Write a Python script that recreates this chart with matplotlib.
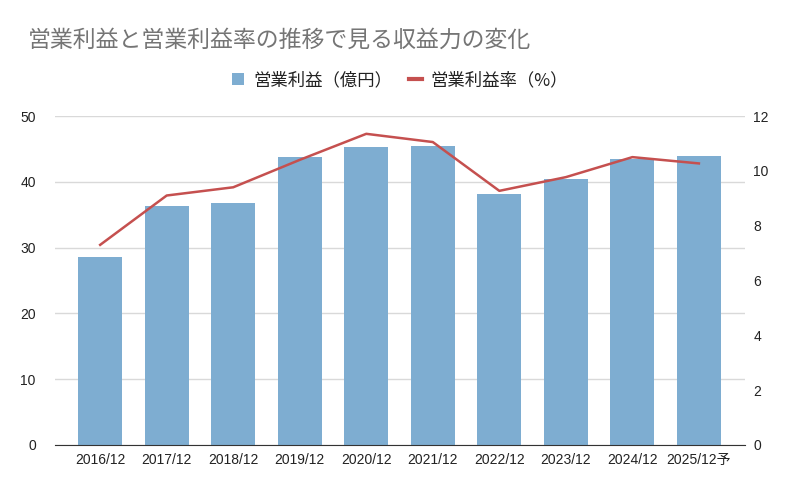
import matplotlib
matplotlib.use("Agg")
import matplotlib.pyplot as plt
from matplotlib.lines import Line2D
from matplotlib.patches import Patch

categories = ["2016/12", "2017/12", "2018/12", "2019/12", "2020/12",
              "2021/12", "2022/12", "2023/12", "2024/12", "2025/12予"]
profit = [28.6, 36.3, 36.8, 43.8, 45.3, 45.4, 38.1, 40.4, 43.5, 43.9]
margin = [7.3, 9.1, 9.4, 10.4, 11.35, 11.05, 9.27, 9.77, 10.5, 10.27]
left_ticks = [0, 10, 20, 30, 40, 50]
right_ticks = [0, 2, 4, 6, 8, 10, 12]

title = "営業利益と営業利益率の推移で見る収益力の変化"
bar_label = "営業利益（億円）"
line_label = "営業利益率（%）"

cjk = ["Noto Sans CJK JP", "DejaVu Sans"]
tickfam = ["Liberation Sans", "Noto Sans CJK JP", "DejaVu Sans"]
bar_color = "#7eadd1"
line_color = "#c5504f"

fig = plt.figure(figsize=(8, 4.93), dpi=100)
ax = fig.add_axes([0.069, 0.0974, 0.862, 0.6673])
x = list(range(len(categories)))
ax.bar(x, profit, width=0.66, color=bar_color, zorder=2)
ax.set_xlim(-0.676, 9.69)
ax.set_ylim(0, 50)
ax.set_yticks(left_ticks)
ax.grid(axis="y", color="#d9d9d9", linewidth=1, zorder=0)
ax.set_axisbelow(True)
for s in ["top", "right", "left"]:
    ax.spines[s].set_visible(False)
ax.spines["bottom"].set_color("#333333")
ax.tick_params(axis="both", length=0, colors="#222222", labelsize=10)
ax.tick_params(axis="y", pad=14)
ax.tick_params(axis="x", pad=6)
ax.set_xticks(x)
ax.set_xticklabels(categories, family=tickfam)
for lab in ax.get_yticklabels():
    lab.set_family(tickfam)

ax2 = ax.twinx()
ax2.plot(x, margin, color=line_color, linewidth=1.8, zorder=3)
ax2.set_ylim(0, 12)
ax2.set_yticks(right_ticks)
for s in ["top", "right", "left", "bottom"]:
    ax2.spines[s].set_visible(False)
ax2.tick_params(axis="y", length=0, colors="#222222", labelsize=10, pad=6)
for lab in ax2.get_yticklabels():
    lab.set_family(tickfam)

fig.text(0.035, 0.918, title, family=cjk, fontsize=16.5, color="#757575",
         va="center", ha="left")

handles = [Patch(facecolor=bar_color, edgecolor="none"),
           Line2D([0], [0], color=line_color, linewidth=3)]
leg = fig.legend(handles, [bar_label, line_label], loc="center",
                 bbox_to_anchor=(0.5, 0.838), ncol=2, frameon=False,
                 prop={"family": cjk, "size": 12.5}, handlelength=0.7,
                 handleheight=0.7, handletextpad=0.5, columnspacing=1.0)
for t in leg.get_texts():
    t.set_color("#222222")

fig.savefig("out.png", dpi=100)
